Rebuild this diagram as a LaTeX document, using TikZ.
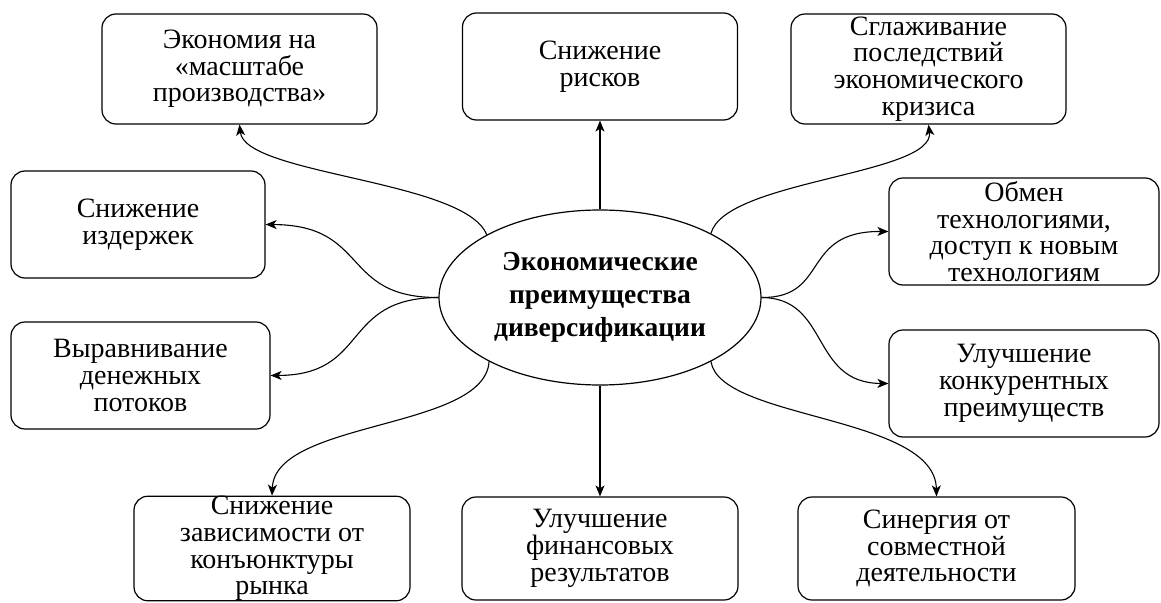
\documentclass[tikz,border=0pt]{standalone}
\usepackage{fontspec}
\setmainfont{Liberation Serif}
\usetikzlibrary{arrows.meta,shapes.geometric}
\begin{document}
\begin{tikzpicture}[x=1pt,y=-1pt,
  box/.style={draw, rounded corners=14pt, line width=1.2pt, align=center, inner sep=0pt,
    font=\fontsize{28}{26.7}\selectfont},
  center/.style={draw, ellipse, line width=1.2pt, align=center, inner sep=0pt,
    minimum width=322pt, minimum height=175pt, font=\bfseries\fontsize{27.5}{33}\selectfont},
  conn/.style={line width=1.1pt, -{Stealth[length=11pt,width=9pt,inset=3pt]}}]
\useasboundingbox (0,0) rectangle (1161,602);

\node[center] (ell) at (600,297.5) {Экономические\\преимущества\\диверсификации};

\node[box, minimum width=275pt, minimum height=110pt] (tl) at (239.5,69) {Экономия на\\«масштабе\\производства»};
\node[box, minimum width=275pt, minimum height=107pt] (tm) at (600,66.5) {Снижение\\рисков};
\node[box, minimum width=275pt, minimum height=110pt] (tr) at (928.5,69) {Сглаживание\\последствий\\экономического\\кризиса};
\node[box, minimum width=254pt, minimum height=107pt] (l2) at (138,224.5) {Снижение\\издержек};
\node[box, minimum width=259pt, minimum height=107pt] (l3) at (140.5,375.5) {Выравнивание\\денежных\\потоков};
\node[box, minimum width=270pt, minimum height=107pt] (r2) at (1024,231.5) {Обмен\\технологиями,\\доступ к новым\\технологиям};
\node[box, minimum width=270pt, minimum height=107pt] (r3) at (1024,383.5) {Улучшение\\конкурентных\\преимуществ};
\node[box, minimum width=276pt, minimum height=103pt] (bl) at (272,548.5) {Снижение\\зависимости от\\конъюнктуры\\рынка};
\node[box, minimum width=276pt, minimum height=103pt] (bm) at (600,548.5) {Улучшение\\финансовых\\результатов};
\node[box, minimum width=277pt, minimum height=103pt] (br) at (936.5,548.5) {Синергия от\\совместной\\деятельности};

\draw[conn] (ell.north) -- (tm.south);
\draw[conn] (ell.south) -- (bm.north);
\draw[conn] (ell.151) .. controls (465,180) and (245,175) .. (tl.south);
\draw[conn] (ell.west) .. controls (340,298) and (370,225) .. (l2.east);
\draw[conn] (ell.west) .. controls (340,298) and (370,375) .. (l3.east);
\draw[conn] (ell.210) .. controls (485,430) and (275,420) .. (bl.north);
\draw[conn] (ell.30) .. controls (725,180) and (935,175) .. (tr.south);
\draw[conn] (ell.east) .. controls (830,298) and (800,231) .. (r2.west);
\draw[conn] (ell.east) .. controls (830,298) and (810,383) .. (r3.west);
\draw[conn] (ell.-30) .. controls (720,420) and (935,415) .. (br.north);
\end{tikzpicture}
\end{document}
